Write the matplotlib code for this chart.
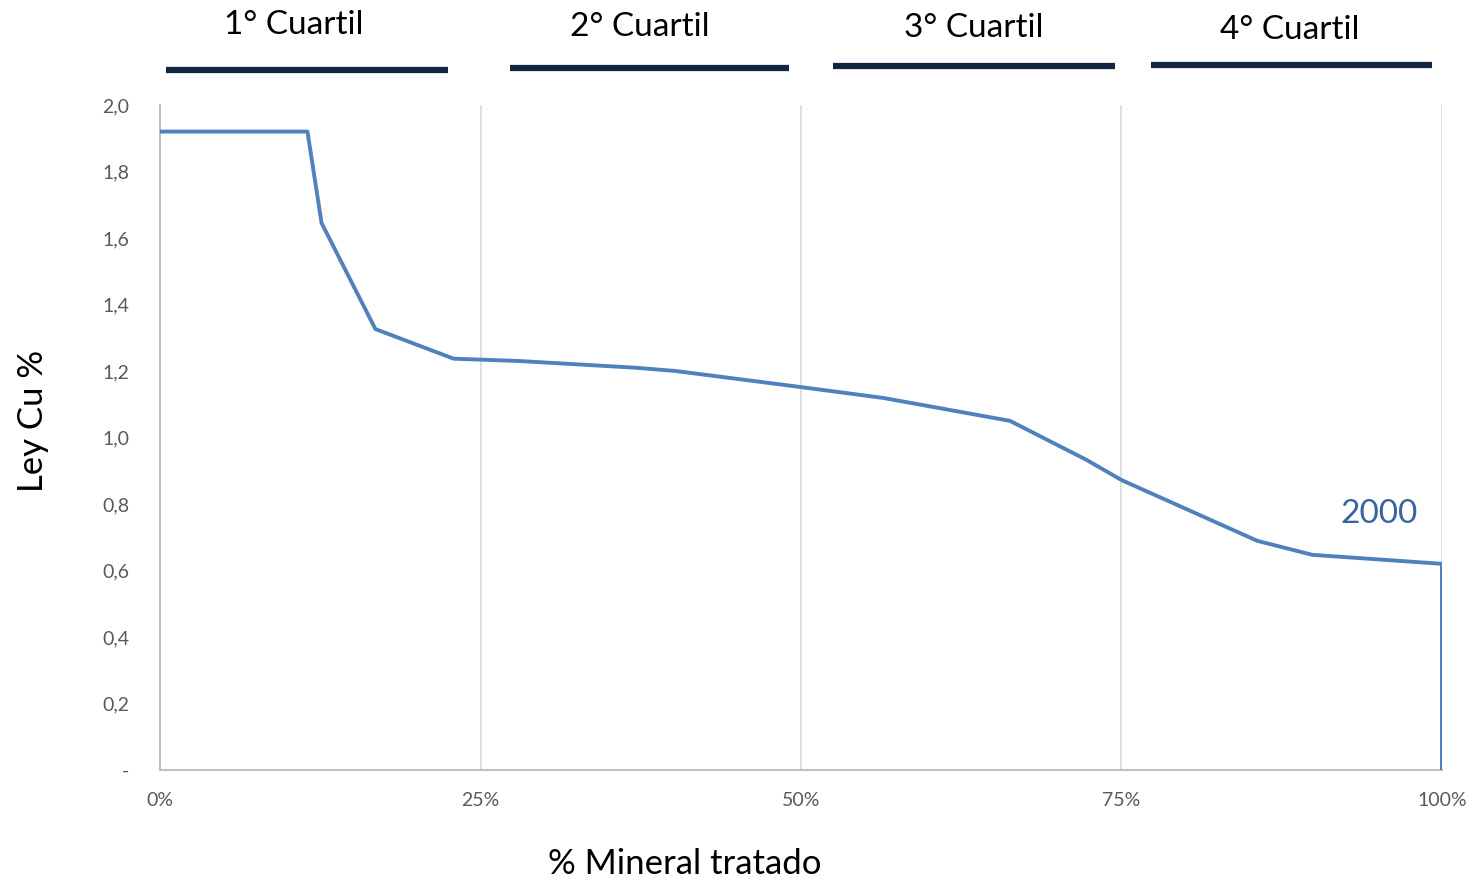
import matplotlib
matplotlib.use("Agg")
from matplotlib import pyplot as plt
from matplotlib.ticker import FuncFormatter

plt.rcParams['font.family'] = ['Lato', 'DejaVu Sans']

# curva ley vs % mineral tratado (año 2000)
pct_mineral = [0, 11.5, 12.6, 16.8, 22.9, 28.0, 37.0, 40.2, 49.9, 56.4, 66.3, 72.3, 75.0, 85.6, 89.9, 100, 100]
ley_cu = [1.92, 1.92, 1.645, 1.326, 1.237, 1.23, 1.21, 1.20, 1.152, 1.119, 1.05, 0.932, 0.872, 0.689, 0.647, 0.62, 0.0]

cuartiles = ["1° Cuartil", "2° Cuartil", "3° Cuartil", "4° Cuartil"]
cuartil_ini = [0.5, 27.3, 52.5, 77.3]
cuartil_fin = [22.5, 49.1, 74.5, 99.2]
cuartil_txt_x = [10.4, 37.4, 63.5, 88.1]

fig = plt.figure(figsize=(14.75, 8.82), dpi=100)
ax = fig.add_axes([0.1085, 0.127, 0.8691, 0.754])

ax.plot(pct_mineral, ley_cu, color="#4F81BD", lw=2.8, zorder=3)

ax.set_xlim(0, 100)
ax.set_ylim(0, 2.0)
ax.set_xticks([0, 25, 50, 75, 100])
ax.set_yticks([0, 0.2, 0.4, 0.6, 0.8, 1.0, 1.2, 1.4, 1.6, 1.8, 2.0])
ax.xaxis.set_major_formatter(FuncFormatter(lambda v, p: f"{v:.0f}%"))
ax.yaxis.set_major_formatter(FuncFormatter(lambda v, p: "-" if v == 0 else f"{v:.1f}".replace(".", ",")))
ax.tick_params(length=0, labelsize=14, colors="#595959")
ax.tick_params(axis="x", pad=16)
ax.tick_params(axis="y", pad=22)

ax.grid(axis="x", color="#D9D9D9", lw=1.2)
ax.set_axisbelow(True)
for s in ["top", "right"]:
    ax.spines[s].set_visible(False)
ax.spines["left"].set_color("#BFBFBF")
ax.spines["bottom"].set_color("#BFBFBF")
ax.spines["left"].set_linewidth(1.5)
ax.spines["bottom"].set_linewidth(1.5)

ax.set_xlabel("% Mineral tratado", fontsize=25, color="black")
ax.set_ylabel("Ley Cu %", fontsize=25, color="black")
ax.xaxis.set_label_coords(0.409, -0.117)
ax.yaxis.set_label_coords(-0.087, 0.525)

# barras de cuartiles arriba del gráfico
trans = ax.get_xaxis_transform()
for i, nombre in enumerate(cuartiles):
    y_bar = 1.053 + i * 0.0025
    ax.plot([cuartil_ini[i], cuartil_fin[i]], [y_bar, y_bar], color="#14253F", lw=4.5,
            transform=trans, clip_on=False, solid_capstyle="butt")
    ax.text(cuartil_txt_x[i], 1.12 - i * 0.0022, nombre, transform=trans,
            ha="center", va="center", fontsize=24, color="black")

ax.text(98.1, 0.77, "2000", ha="right", va="center", fontsize=24, color="#3A64A0")

fig.savefig("out.png", dpi=100)
